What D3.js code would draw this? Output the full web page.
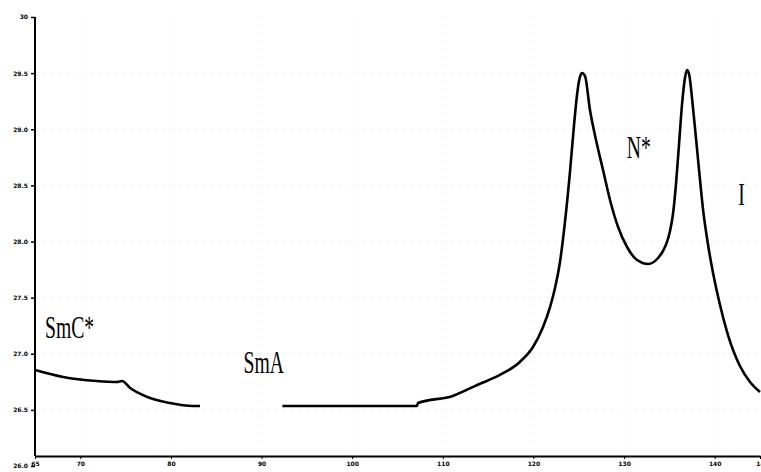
<!DOCTYPE html>
<html>
<head>
<meta charset="utf-8">
<script src="https://cdn.jsdelivr.net/npm/d3@7"></script>
<style>
  body { margin: 0; background: #fff; }
  .tick text { font-family: "DejaVu Sans", sans-serif; font-weight: bold; font-size: 6px; fill: #000; }
  .phase { font-family: "Liberation Serif", serif; font-size: 24px; fill: #000; }
</style>
</head>
<body>
<svg id="chart"></svg>
<script>
// Temperature (°C), null = gap in the printed curve
var temps = [65, 68.1, 71.8, 74.05, 74.6, 75.5, 77.4, 79.9, 82.4, 83.2, 87.5,
  92.3, 107.15, 107.26, 111.1, 113.8, 116.3, 118.5, 119.95, 121.06, 121.83, 122.38,
  122.93, 123.48, 124.03, 124.48, 124.81, 125.03, 125.36, 125.69, 126.24, 126.98,
  127.68, 128.45, 129.34, 130.33, 131.43, 132.65, 133.75, 134.3, 134.74, 135.07,
  135.4, 135.73, 136.06, 136.39, 136.72, 136.94, 137.17, 137.61, 138.17, 138.72,
  139.27, 139.82, 140.59, 141.47, 142.79, 143.9, 145];
var values = [26.855, 26.793, 26.757, 26.748, 26.757, 26.695, 26.615, 26.561, 26.535, 26.535, null,
  26.535, 26.535, 26.561, 26.624, 26.722, 26.811, 26.927, 27.06, 27.238, 27.416, 27.586,
  27.817, 28.174, 28.619, 29.038, 29.305, 29.43, 29.501, 29.474, 29.171, 28.877,
  28.637, 28.37, 28.129, 27.951, 27.835, 27.8, 27.853, 27.916, 27.996, 28.094,
  28.245, 28.512, 28.86, 29.216, 29.457, 29.528, 29.492, 29.189, 28.726, 28.281,
  27.969, 27.719, 27.434, 27.167, 26.891, 26.748, 26.659];

var xTicks = [65, 70, 80, 90, 100, 110, 120, 130, 140, 145];
var xTickLabels = ["65", "70", "80", "90", "100", "110", "120", "130", "140", "14"];
var yTicks = [26.0, 26.5, 27.0, 27.5, 28.0, 28.5, 29.0, 29.5, 30];
var yTickLabels = ["26.0", "26.5", "27.0", "27.5", "28.0", "28.5", "29.0", "29.5", "30"];

var phases = ["SmC*", "SmA", "N*", "I"];
var phaseT = [66.1, 88.0, 130.3, 142.6];
var phaseV = [27.14, 26.83, 28.744, 28.325];

var width = 761, height = 472;
var svg = d3.select("#chart").attr("width", width).attr("height", height);

var x = d3.scaleLinear().domain([65, 145]).range([35, 760]);
var y = d3.scaleLinear().domain([26, 30]).range([466, 17]);
var axisY = 456;

// faint dotted grid
var grid = svg.append("g").attr("stroke", "#bbb").attr("stroke-dasharray", "1,7").attr("opacity", 0.4);
grid.selectAll("line.v").data(xTicks.slice(1, -1)).enter().append("line")
  .attr("x1", function(d) { return x(d); }).attr("x2", function(d) { return x(d); })
  .attr("y1", y(30)).attr("y2", axisY);
grid.selectAll("line.h").data(yTicks.slice(1, -1)).enter().append("line")
  .attr("x1", x(65)).attr("x2", x(145))
  .attr("y1", function(d) { return y(d); }).attr("y2", function(d) { return y(d); });

// y axis
var gy = svg.append("g").attr("transform", "translate(" + x(65) + ",0)")
  .call(d3.axisLeft(y).tickValues(yTicks).tickSize(4).tickSizeOuter(0)
    .tickFormat(function(d, i) { return yTickLabels[i]; }));
gy.select(".domain").remove();
gy.selectAll(".tick line").attr("stroke-width", 1.5);
gy.selectAll(".tick text").attr("x", -7);
svg.append("line").attr("x1", x(65)).attr("x2", x(65)).attr("y1", y(30)).attr("y2", axisY)
  .attr("stroke", "#000").attr("stroke-width", 2);

// x axis
var gx = svg.append("g").attr("transform", "translate(0," + axisY + ")")
  .call(d3.axisBottom(x).tickValues(xTicks).tickSize(3).tickSizeOuter(0)
    .tickFormat(function(d, i) { return xTickLabels[i]; }));
gx.select(".domain").attr("stroke-width", 2);
gx.selectAll(".tick text").attr("y", 6);

// the trace
var pts = temps.map(function(t, i) { return [t, values[i]]; });
var line = d3.line()
  .defined(function(d) { return d[1] !== null; })
  .x(function(d) { return x(d[0]); })
  .y(function(d) { return y(d[1]); })
  .curve(d3.curveMonotoneX);
svg.append("path").datum(pts)
  .attr("d", line)
  .attr("fill", "none")
  .attr("stroke", "#000")
  .attr("stroke-width", 2.6)
  .attr("stroke-linejoin", "round");

// phase labels
phases.forEach(function(p, i) {
  svg.append("text").attr("class", "phase")
    .attr("transform", "translate(" + x(phaseT[i]) + "," + y(phaseV[i]) + ") scale(0.82,1.28)")
    .text(p);
});
</script>
</body>
</html>
